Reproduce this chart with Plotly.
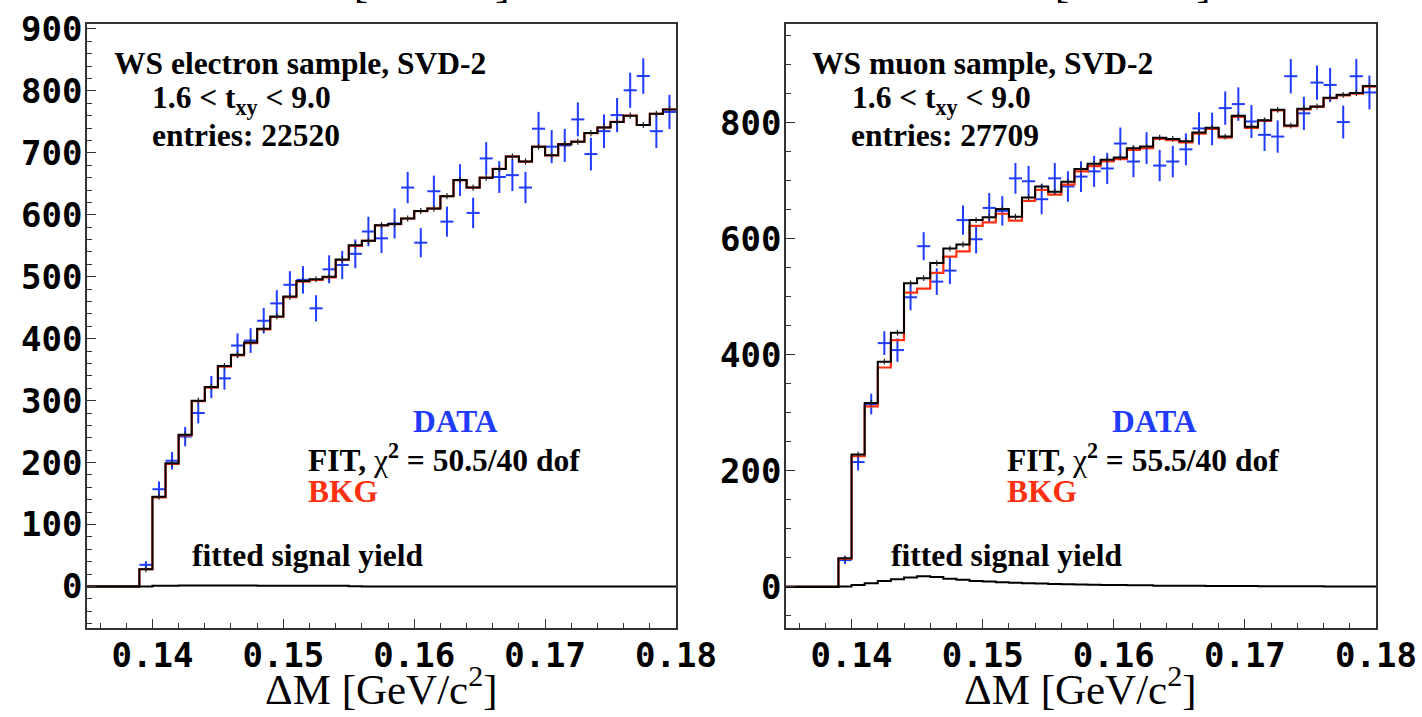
import numpy as np
import plotly.graph_objects as go

# ---------------- data ----------------
# histogram bins: 0.135 .. 0.180 GeV/c^2, width 0.001
BIN_LO, BIN_HI, BIN_W = 0.135, 0.180, 0.001
# first four bins (0.135-0.139) are empty
EMPTY = [0, 0, 0, 0]

# electron sample (bins 0.139 .. 0.180)
data_e = [35, 157, 203, 242, 280, 322, 336, 389, 397, 429, 457, 487, 495, 449, 512,
          519, 537, 573, 562, 586, 644, 555, 638, 589, 656, 603, 691, 661, 664, 644,
          739, 710, 712, 754, 698, 735, 761, 801, 824, 735, 766]
fit_e = [28, 145, 199, 245, 300, 322, 356, 374, 394, 416, 436, 468, 493, 496, 500,
         528, 551, 558, 583, 585, 594, 606, 610, 630, 656, 644, 660, 674, 694, 686,
         710, 696, 714, 718, 732, 741, 750, 760, 745, 763, 770]
bkg_e = [28, 144, 198, 244, 299, 321, 355, 373, 393, 415, 435, 467, 492, 495, 499,
         527, 550, 558, 583, 585, 594, 606, 610, 630, 656, 644, 660, 674, 694, 686,
         710, 696, 714, 718, 732, 741, 750, 760, 745, 763, 770]
sig_e = [0, 1, 1, 1.5, 1.5, 1.5, 1.5, 1.5, 1.5, 1, 1, 1, 1, 1, 1,
         1, 0.5, 0, 0, 0, 0, 0, 0, 0, 0, 0, 0, 0, 0, 0,
         0, 0, 0, 0, 0, 0, 0, 0, 0, 0, 0]

# muon sample
data_m = [46, 215, 315, 420, 408, 499, 587, 526, 545, 632, 599, 653, 648, 704, 699,
          668, 704, 690, 707, 716, 721, 764, 733, 756, 726, 733, 754, 790, 789, 825,
          832, 802, 779, 776, 880, 816, 869, 865, 801, 880, 852]
fit_m = [49, 228, 317, 388, 438, 523, 532, 558, 583, 590, 632, 637, 651, 638, 671,
         690, 681, 698, 720, 729, 736, 740, 756, 759, 774, 772, 768, 783, 791, 776,
         812, 793, 804, 822, 795, 824, 828, 843, 848, 851, 863]
bkg_m = [48, 225, 311, 378, 425, 507, 514, 541, 569, 578, 622, 628, 643, 631, 665,
         684, 676, 693, 716, 725, 733, 737, 753, 756, 772, 770, 766, 781, 789, 774,
         810, 791, 803, 821, 794, 823, 827, 842, 847, 850, 862]
sig_m = [0.5, 3, 6, 10, 13, 16, 18, 17, 14, 12, 10, 9, 8, 7, 6,
         5.5, 5, 4.5, 4, 3.5, 3, 3, 2.5, 2.5, 2, 2, 2, 2, 1.5, 1.5,
         1.5, 1.5, 1, 1, 1, 1, 1, 0.5, 0.5, 0.5, 0.5]

titles_e = ["WS electron sample, SVD-2", "1.6 < t<sub>xy</sub> < 9.0", "entries: 22520"]
titles_m = ["WS muon sample, SVD-2", "1.6 < t<sub>xy</sub> < 9.0", "entries: 27709"]
chi2_e = "50.5/40 dof"
chi2_m = "55.5/40 dof"
x_ticks = [0.14, 0.15, 0.16, 0.17, 0.18]

# ---------------- derived bin geometry ----------------
edges = np.round(np.arange(BIN_LO, BIN_HI + BIN_W / 2, BIN_W), 4)
centers = np.round(edges[4:-1] + BIN_W / 2, 5)

BLUE = "#1f3cff"
RED = "#ff3010"
W, H = 1422, 717


def step(vals):
    full = EMPTY + list(vals)
    return list(edges), full + [full[-1]]


fig = go.Figure()


def add_panel(xa, ya, data, fit, bkg, sig):
    fig.add_trace(go.Scatter(
        x=centers, y=data, mode="markers", xaxis=xa, yaxis=ya,
        marker=dict(size=1, color=BLUE),
        error_y=dict(type="data", array=np.sqrt(data), width=0, thickness=2, color=BLUE),
        error_x=dict(type="constant", value=BIN_W / 2, width=0, thickness=2, color=BLUE),
        showlegend=False, hoverinfo="skip"))
    xs, ys = step(bkg)
    fig.add_trace(go.Scatter(x=xs, y=ys, mode="lines", line_shape="hv", xaxis=xa, yaxis=ya,
                             line=dict(color=RED, width=2.2), showlegend=False))
    xs, ys = step(fit)
    fig.add_trace(go.Scatter(x=xs, y=ys, mode="lines", line_shape="hv", xaxis=xa, yaxis=ya,
                             line=dict(color="black", width=2), showlegend=False))
    fig.add_trace(go.Scatter(
        x=centers, y=fit, mode="markers", xaxis=xa, yaxis=ya,
        marker=dict(size=1, color="#222"),
        error_y=dict(type="constant", value=5, width=0, thickness=1.2, color="#222"),
        showlegend=False, hoverinfo="skip"))
    xs, ys = step(sig)
    fig.add_trace(go.Scatter(x=xs, y=ys, mode="lines", line_shape="hv", xaxis=xa, yaxis=ya,
                             line=dict(color="black", width=2), showlegend=False))


add_panel("x", "y", data_e, fit_e, bkg_e, sig_e)
add_panel("x2", "y2", data_m, fit_m, bkg_m, sig_m)

tickfont = dict(family="DejaVu Sans Mono", size=34, color="black", weight="bold")
axis_common = dict(showgrid=False, zeroline=False, showline=True, linecolor="#333",
                   linewidth=1.5, mirror=True, ticks="inside", tickcolor="#333",
                   tickwidth=1.3, tickfont=tickfont, automargin=False,
                   ticklabelstandoff=-4)

xdom1 = [87 / W, 676 / W]
xdom2 = [786 / W, 1376 / W]
ydom = [1 - 628 / H, 1 - 24 / H]

fig.update_layout(
    width=W, height=H, margin=dict(l=0, r=0, t=0, b=0, autoexpand=False),
    paper_bgcolor="white", plot_bgcolor="white",
    xaxis=dict(domain=xdom1, anchor="y", range=[BIN_LO, BIN_HI], tickmode="array",
               tickvals=x_ticks, ticktext=[f"{v:.2f}" for v in x_ticks], ticklen=9,
               minor=dict(dtick=0.002, tick0=0.14, ticklen=5, ticks="inside", tickcolor="#333"),
               **axis_common),
    yaxis=dict(domain=ydom, anchor="x", range=[-67, 908], dtick=100, ticklen=9,
               minor=dict(dtick=20, ticklen=5, ticks="inside", tickcolor="#333"),
               **axis_common),
    xaxis2=dict(domain=xdom2, anchor="y2", range=[BIN_LO, BIN_HI], tickmode="array",
                tickvals=x_ticks, ticktext=[f"{v:.2f}" for v in x_ticks], ticklen=9,
                minor=dict(dtick=0.002, tick0=0.14, ticklen=5, ticks="inside", tickcolor="#333"),
                **axis_common),
    yaxis2=dict(domain=ydom, anchor="x2", range=[-71, 970], dtick=200, ticklen=9,
                minor=dict(dtick=50, ticklen=5, ticks="inside", tickcolor="#333"),
                **axis_common),
)

SERIF = "Liberation Serif"
FS = 31.5


def note(text, left_px, baseline_px, color="black", size=FS, bold=True, xanchor="left"):
    fig.add_annotation(
        x=left_px / W, y=1 - (baseline_px - 0.3375 * size) / H, xref="paper", yref="paper",
        text=text, showarrow=False, xanchor=xanchor, yanchor="middle",
        font=dict(family=SERIF, size=size, color=color, weight="bold" if bold else "normal"))


chi = '<span style="font-weight:normal">χ</span><sup>2</sup>'
for off, titles, chi2, starts in [
        (0, titles_e, chi2_e, (112, 150, 150)),
        (699, titles_m, chi2_m, (810, 850, 849))]:
    note(titles[0], starts[0], 74)
    note(titles[1], starts[1], 111)
    note(titles[2], starts[2], 146)
    note("DATA", 411 + off, 432, color=BLUE)
    note(f"FIT, {chi} = {chi2}", 306 + off, 469)
    note("BKG", 306 + off, 502, color=RED)
    note("fitted signal yield", 190 + off, 566)

axis_title = "ΔM [GeV/c<sup>2</sup>]"
for cx in (381, 1080):
    note(axis_title, cx, 701, size=43, bold=False, xanchor="center")
# bottom of the axis titles of the row above (cropped at the top edge)
for cx in (393, 1094):
    note(axis_title, cx, -6, size=43, bold=False, xanchor="center")

fig.write_html("out.html")
